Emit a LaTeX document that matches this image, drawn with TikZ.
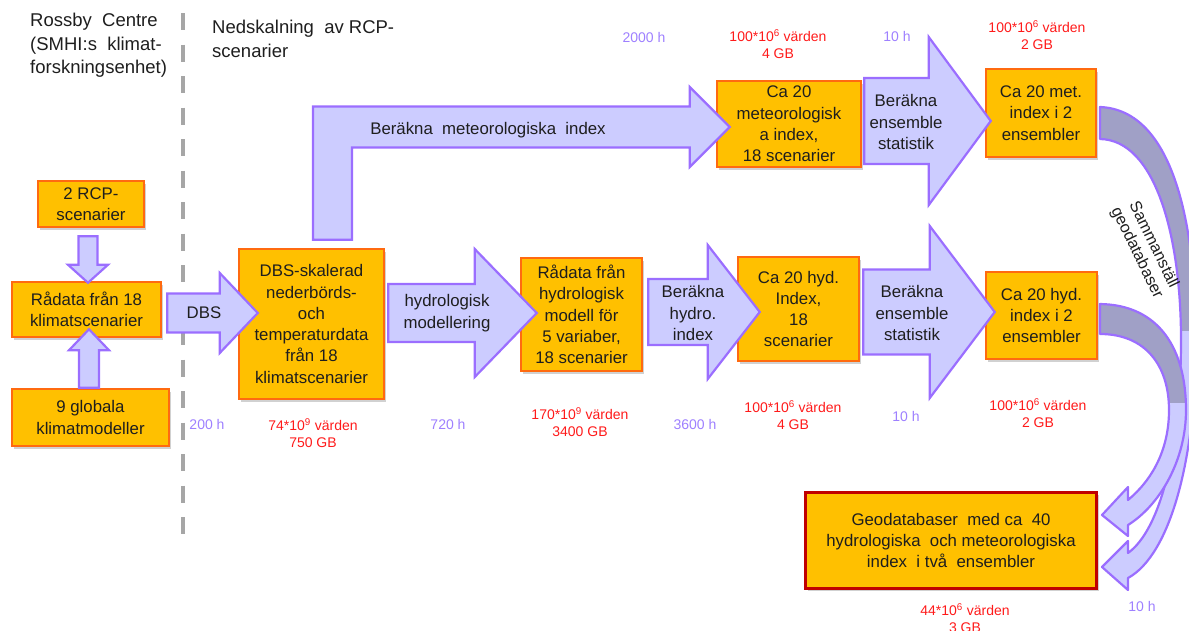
\documentclass[tikz,border=0pt]{standalone}
\usepackage{fontspec}
\setmainfont{Liberation Sans}
\usetikzlibrary{calc,shadows}

\definecolor{boxOrange}{HTML}{FFC000}
\definecolor{boxEdge}{HTML}{FF6A10}
\definecolor{geoRed}{HTML}{C00000}
\definecolor{arrowFill}{HTML}{CCCCFF}
\definecolor{arrowEdge}{HTML}{9B6EFF}
\definecolor{curveDark}{HTML}{A0A0C6}
\definecolor{hourPurple}{HTML}{9E80FF}
\definecolor{sizeRed}{HTML}{FF1A1A}
\definecolor{textDark}{HTML}{1E1E1E}

\newcommand{\boxfont}{\fontsize{16.8}{21.3}\selectfont}
\newcommand{\labelfont}{\fontsize{14}{17}\selectfont}

\tikzset{
  databox/.style={draw=boxEdge, line width=2.5pt, fill=boxOrange, align=center,
                  inner sep=2pt, font=\boxfont, text=textDark,
                  drop shadow={shadow xshift=2pt,shadow yshift=-2.5pt,opacity=0.3,fill=black!60}},
  flowarrow/.style={draw=arrowEdge, fill=arrowFill, line width=2.2pt, line join=miter},
  flowtext/.style={font=\boxfont, text=textDark, align=center, inner sep=0pt},
  headtext/.style={font=\fontsize{18.5}{23.5}\selectfont, text=textDark, align=left, inner sep=0pt},
  hourlabel/.style={font=\labelfont, text=hourPurple, inner sep=0pt},
  sizelabel/.style={font=\labelfont, text=sizeRed, align=center, inner sep=0pt},
}

% horizontal block arrow: tail, tip, shaft half, head length, head half
\newcommand{\hblock}[5]{%
  \draw[flowarrow] let \p1=(#1), \p2=(#2) in
    (\x1,\y2+#3) -- (\x2-#4,\y2+#3) -- (\x2-#4,\y2+#5) -- (\x2,\y2)
    -- (\x2-#4,\y2-#5) -- (\x2-#4,\y2-#3) -- (\x1,\y2-#3) -- cycle;}
% vertical block arrow: tail, tip, shaft half, signed head length, head half
\newcommand{\vblock}[5]{%
  \draw[flowarrow] let \p1=(#1), \p2=(#2) in
    (\x2-#3,\y1) -- (\x2-#3,\y2+#4) -- (\x2-#5,\y2+#4) -- (\x2,\y2)
    -- (\x2+#5,\y2+#4) -- (\x2+#3,\y2+#4) -- (\x2+#3,\y1) -- cycle;}

% the two curved arrows into the geodatabase
\newcommand{\mergeMet}{(1100,107) .. controls (1175,110) and (1196,230) .. (1196,340)
  .. controls (1196,460) and (1170,555) .. (1128,578) -- (1128,590) -- (1102,567)
  -- (1128,541) -- (1128,553) .. controls (1160,530) and (1181,450) .. (1181,340)
  .. controls (1181,235) and (1155,140) .. (1100,139) -- cycle}
\newcommand{\mergeHyd}{(1100,304) .. controls (1160,305) and (1186,350) .. (1186,410)
  .. controls (1186,460) and (1160,505) .. (1128,525) -- (1128,536) -- (1102,515)
  -- (1128,487) -- (1128,500) .. controls (1152,480) and (1169,450) .. (1169,410)
  .. controls (1169,365) and (1145,334) .. (1100,334) -- cycle}

\begin{document}
\begin{tikzpicture}[x=1pt,y=-1pt]
\useasboundingbox (0,0) rectangle (1189,630);

% divider and headings
\draw[draw=black!35, line width=4pt, dash pattern=on 17pt off 14.5pt] (183,13) -- (183,548);
\node[headtext, anchor=north west] (rossby) at (30,13) {Rossby\ \ Centre\\(SMHI:s\ \ klimat-\\forskningsenhet)};
\node[headtext, anchor=north west] (nedsk) at (212,20) {Nedskalning\ \ av RCP-\\scenarier};

% data boxes
\node[databox, minimum width=106pt, minimum height=46pt] (rcp) at (91,204) {2 RCP-\\scenarier};
\node[databox, minimum width=149pt, minimum height=55pt] (raw) at (86.5,309.5) {Rådata från 18\\klimatscenarier};
\node[databox, minimum width=157pt, minimum height=57pt] (gcm) at (90.5,417.5) {9 globala\\klimatmodeller};
\node[databox, minimum width=145pt, minimum height=150pt] (dbs) at (311.5,324) {DBS-skalerad\\nederbörds-\\och\\temperaturdata\\från 18\\klimatscenarier};
\node[databox, minimum width=144pt, minimum height=86pt] (met) at (789,124) {Ca 20\\meteorologisk\\a index,\\18 scenarier};
\node[databox, minimum width=110pt, minimum height=88pt] (metens) at (1041,113) {Ca 20 met.\\index i 2\\ensembler};
\node[databox, minimum width=121pt, minimum height=113pt] (hydraw) at (581.5,314.5) {Rådata från\\hydrologisk\\modell för\\5 variaber,\\18 scenarier};
\node[databox, minimum width=121pt, minimum height=104pt] (hyd) at (798.5,309) {Ca 20 hyd.\\Index,\\18\\scenarier};
\node[databox, minimum width=111pt, minimum height=87pt] (hydens) at (1041.5,315.5) {Ca 20 hyd.\\index i 2\\ensembler};
\node[databox, draw=geoRed, line width=3.5pt, minimum width=291pt, minimum height=96pt] (geo) at (951,540.5)
  {Geodatabaser\ \ med ca\ \ 40\\hydrologiska\ \ och meteorologiska\\index\ \ i två\ \ ensembler};

% block arrows
\vblock{$(rcp.south)+(-3,8)$}{$(raw.north)+(1.5,2)$}{9.5pt}{18pt}{20pt}
\vblock{gcm.north}{$(raw.south)+(2.5,-9)$}{10pt}{-21pt}{20pt}
\hblock{$(raw.east)+(5,0)$}{$(dbs.west)+(20,-11)$}{19.5pt}{38pt}{40pt}
\draw[flowarrow] let \p1=($(dbs.north)+(21,-8)$), \p2=($(met.west)+(14,3)$) in
  (\x1-19.5pt,\y1) -- (\x1-19.5pt,\y2+20.5pt) -- (\x2-40pt,\y2+20.5pt) -- (\x2-40pt,\y2+40pt)
  -- (\x2,\y2) -- (\x2-40pt,\y2-40pt) -- (\x2-40pt,\y2-20.5pt) -- (\x1+19.5pt,\y2-20.5pt)
  -- (\x1+19.5pt,\y1) -- cycle;
\hblock{$(met.east)+(2,0)$}{$(metens.west)+(6,8)$}{43pt}{62pt}{84pt}
\hblock{$(dbs.east)+(3,0)$}{$(hydraw.west)+(17,-1.5)$}{29pt}{62pt}{64pt}
\hblock{$(hydraw.east)+(5,0)$}{$(hyd.west)+(23,3)$}{33pt}{52pt}{67pt}
\hblock{$(hyd.east)+(3,0)$}{$(hydens.west)+(10,-3.5)$}{42.5pt}{65pt}{86pt}

% arrow texts
\node[flowtext] (dbslbl) at (204,313) {DBS};
\node[flowtext] (metidx) at (488,130) {Beräkna\ \ meteorologiska\ \ index};
\node[flowtext] (metstat) at (906,122) {Beräkna\\ensemble\\statistik};
\node[flowtext] (hydmod) at (447,313) {hydrologisk\\modellering};
\node[flowtext] (hydidx) at (693,313) {Beräkna\\hydro.\\index};
\node[flowtext] (hydstat) at (912,313) {Beräkna\\ensemble\\statistik};

% curved arrows
\fill[arrowFill] \mergeMet;
\begin{scope}
  \clip (1095,100) rectangle (1199,330);
  \fill[curveDark] \mergeMet;
\end{scope}
\draw[arrowEdge, line width=2.2pt, line join=round] \mergeMet;
\fill[arrowFill] \mergeHyd;
\begin{scope}
  \clip (1095,295) rectangle (1199,402);
  \fill[curveDark] \mergeHyd;
\end{scope}
\draw[arrowEdge, line width=2.2pt, line join=round] \mergeHyd;
\node[font=\fontsize{16.2}{18.5}\selectfont, text=textDark, align=center, rotate=-64] (mergelbl) at (1145,249)
  {Sammanställ\\geodatabaser};

% computing times
\node[hourlabel] (t1) at (207,424) {200 h};
\node[hourlabel] (t2) at (448,424) {720 h};
\node[hourlabel] (t3) at (695,424) {3600 h};
\node[hourlabel] (t4) at (906,416) {10 h};
\node[hourlabel] (t5) at (644,37) {2000 h};
\node[hourlabel] (t6) at (897,36) {10 h};
\node[hourlabel] (t7) at (1142,606) {10 h};

% data volumes
\node[sizelabel] (s1) at (313,433) {74*10\textsuperscript{9} värden\\750 GB};
\node[sizelabel] (s2) at (580,422) {170*10\textsuperscript{9} värden\\3400 GB};
\node[sizelabel] (s3) at (793,415) {100*10\textsuperscript{6} värden\\4 GB};
\node[sizelabel] (s4) at (1038,413) {100*10\textsuperscript{6} värden\\2 GB};
\node[sizelabel] (s5) at (778,44) {100*10\textsuperscript{6} värden\\4 GB};
\node[sizelabel] (s6) at (1037,35) {100*10\textsuperscript{6} värden\\2 GB};
\node[sizelabel] (s7) at (965,618) {44*10\textsuperscript{6} värden\\3 GB};
\end{tikzpicture}
\end{document}
